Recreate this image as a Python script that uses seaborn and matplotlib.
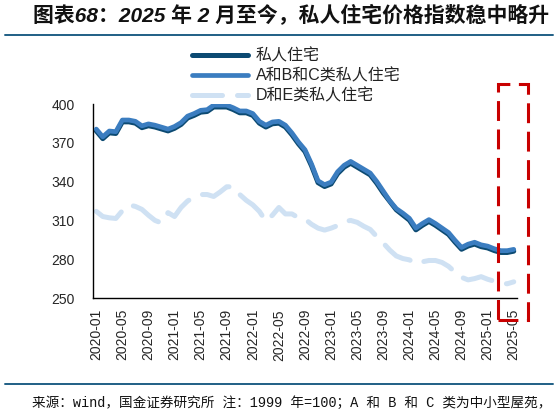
import numpy as np
import pandas as pd
import matplotlib
matplotlib.use("Agg")
import matplotlib.pyplot as plt
from matplotlib.patches import Rectangle
from matplotlib.lines import Line2D
import seaborn as sns

# ---------------- data ----------------
months = pd.date_range("2020-01-01", periods=65, freq="MS").strftime("%Y-%m").tolist()

private_all = [379.2, 373.2, 377.7, 377.2, 386.2, 386.2, 385.2, 381.7, 383.2, 382.2,
               380.7, 379.2, 381.2, 384.2, 389.2, 391.2, 393.7, 394.2, 397.7, 397.7,
               397.7, 395.7, 393.2, 393.2, 391.2, 385.2, 382.2, 384.7, 385.2, 382.2,
               376.2, 369.2, 363.2, 352.2, 339.2, 336.2, 338.2, 346.2, 351.2, 354.2,
               351.2, 348.2, 345.2, 338.7, 331.2, 324.7, 318.2, 314.2, 310.2, 302.7,
               306.2, 309.2, 306.2, 302.7, 299.2, 293.2, 287.7, 290.2, 291.7, 289.7,
               288.7, 286.7, 285.2, 285.2, 286.2]

class_abc = [380.6, 374.6, 379.1, 378.6, 387.6, 387.6, 386.6, 383.1, 384.6, 383.6,
             382.1, 380.6, 382.6, 385.6, 390.6, 392.6, 395.1, 395.6, 399.1, 399.1,
             399.1, 397.1, 394.6, 394.6, 392.6, 386.6, 383.6, 386.1, 386.6, 383.6,
             377.6, 370.6, 364.6, 353.6, 340.6, 337.6, 339.6, 347.6, 352.6, 355.6,
             352.6, 349.6, 346.6, 340.1, 332.6, 325.1, 319.1, 315.6, 311.6, 304.1,
             307.6, 310.6, 307.6, 304.1, 300.6, 294.6, 289.1, 291.6, 293.1, 291.1,
             290.1, 288.1, 286.6, 286.6, 287.6]

class_de = [317.0, 313.0, 312.0, 311.5, 317.5, 322.0, 320.8, 318.5, 314.0, 310.0,
            308.0, 316.0, 313.0, 320.0, 325.0, 328.0, 330.0, 330.0, 328.5, 332.0,
            336.0, 336.0, 330.0, 325.5, 322.0, 317.0, 309.5, 314.0, 320.0, 315.0,
            315.0, 312.0, 311.0, 307.0, 304.0, 302.5, 304.0, 306.0, 309.0, 310.0,
            308.5, 305.5, 303.0, 297.5, 292.5, 287.0, 282.5, 280.5, 279.5, 276.5,
            278.0, 279.0, 279.0, 277.5, 274.5, 270.0, 266.0, 264.0, 265.0, 266.5,
            264.5, 263.0, 261.5, 261.0, 262.5]

series_names = ["私人住宅", "A和B和C类私人住宅", "D和E类私人住宅"]
y_ticks = [250, 280, 310, 340, 370, 400]

title_text = "图表68：2025 年 2 月至今，私人住宅价格指数稳中略升"
footer_text = "来源：wind，国金证券研究所 注：1999 年=100；A 和 B 和 C 类为中小型屋苑，"

# ---------------- style ----------------
sns.set_style("white")
plt.rcParams["font.family"] = ["Liberation Sans", "Noto Sans CJK SC", "DejaVu Sans"]

W, H = 559, 416
fig = plt.figure(figsize=(W / 100, H / 100), dpi=100)
ax = fig.add_axes([93 / W, 1 - 298 / H, (517 - 93) / W, (298 - 104) / H])

idx = np.arange(len(months))
df = pd.DataFrame({"idx": idx, "p": private_all, "abc": class_abc, "de": class_de})

c_dark = "#0c4a72"
c_mid = "#3b7dc0"
c_light = "#cfe1f3"

sns.lineplot(data=df, x="idx", y="de", ax=ax, color=c_light, linewidth=3.6, zorder=1)
sns.lineplot(data=df, x="idx", y="p", ax=ax, color=c_dark, linewidth=3.6, zorder=2)
sns.lineplot(data=df, x="idx", y="abc", ax=ax, color=c_mid, linewidth=3.4, zorder=3)

lines = ax.get_lines()
l_de, l_p, l_abc = lines[0], lines[1], lines[2]
for ln in lines:
    ln.set_solid_capstyle("round")
    ln.set_solid_joinstyle("round")
l_de.set_dashes((6.0, 3.0))
l_de.set_dash_capstyle("round")

ax.set_xlim(-0.5, len(months) - 0.5)
ax.set_ylim(250, 400)
ax.set_xlabel("")
ax.set_ylabel("")

major = idx[::4]
ax.set_xticks(major)
ax.set_xticklabels([months[i] for i in major], rotation=90, fontsize=10,
                   family=["Liberation Sans"])
ax.set_xticks(np.arange(-0.5, len(months), 4), minor=True)
ax.tick_params(axis="x", which="major", length=0, pad=8)
ax.tick_params(axis="x", which="minor", direction="in", length=3.5, width=1, color="black")
ax.set_yticks(y_ticks)
ax.set_yticklabels([str(v) for v in y_ticks], fontsize=10, family=["Liberation Sans"])
ax.tick_params(axis="y", direction="in", length=3.5, width=1, pad=13, color="black")

for s in ["top", "right"]:
    ax.spines[s].set_visible(False)
for s in ["left", "bottom"]:
    ax.spines[s].set_color("black")
    ax.spines[s].set_linewidth(1.0)
ax.patch.set_alpha(0)

# legend
leg = ax.legend([l_p, l_abc, l_de], series_names, loc="upper left",
                bbox_to_anchor=(192 / W, 1 - 48 / H), bbox_transform=fig.transFigure,
                frameon=False, borderpad=0, borderaxespad=0, handlelength=3.5,
                handletextpad=0.5, labelspacing=0.3,
                prop={"family": ["Liberation Sans", "Noto Sans CJK SC"], "size": 11.5})
for t in leg.get_texts():
    t.set_color("#222222")

# title and separators
fig.text(33 / W, 1 - 16 / H, title_text, ha="left", va="center", fontsize=15,
         fontweight="bold", style="italic", color="#111111",
         family=["Liberation Sans", "Noto Sans CJK SC"])
sep_color = "#1f5f85"
fig.add_artist(Line2D([5 / W, 553 / W], [1 - 35 / H, 1 - 35 / H], transform=fig.transFigure,
                      color=sep_color, linewidth=1.4))
fig.add_artist(Line2D([5 / W, 553 / W], [1 - 384 / H, 1 - 384 / H], transform=fig.transFigure,
                      color=sep_color, linewidth=1.4))
fig.text(32 / W, 1 - 403 / H, footer_text, ha="left", va="center", fontsize=9.8,
         color="#111111", family=["Liberation Mono", "Noto Sans CJK SC"])

# red highlight box
box = Rectangle((497.5 / W, 1 - 320 / H), 30 / W, (320 - 84) / H, transform=fig.transFigure,
                fill=False, edgecolor="#c80000", linewidth=2.2, linestyle=(0, (6.5, 2.8)),
                zorder=10)
fig.add_artist(box)

fig.savefig("out.png", dpi=100)
